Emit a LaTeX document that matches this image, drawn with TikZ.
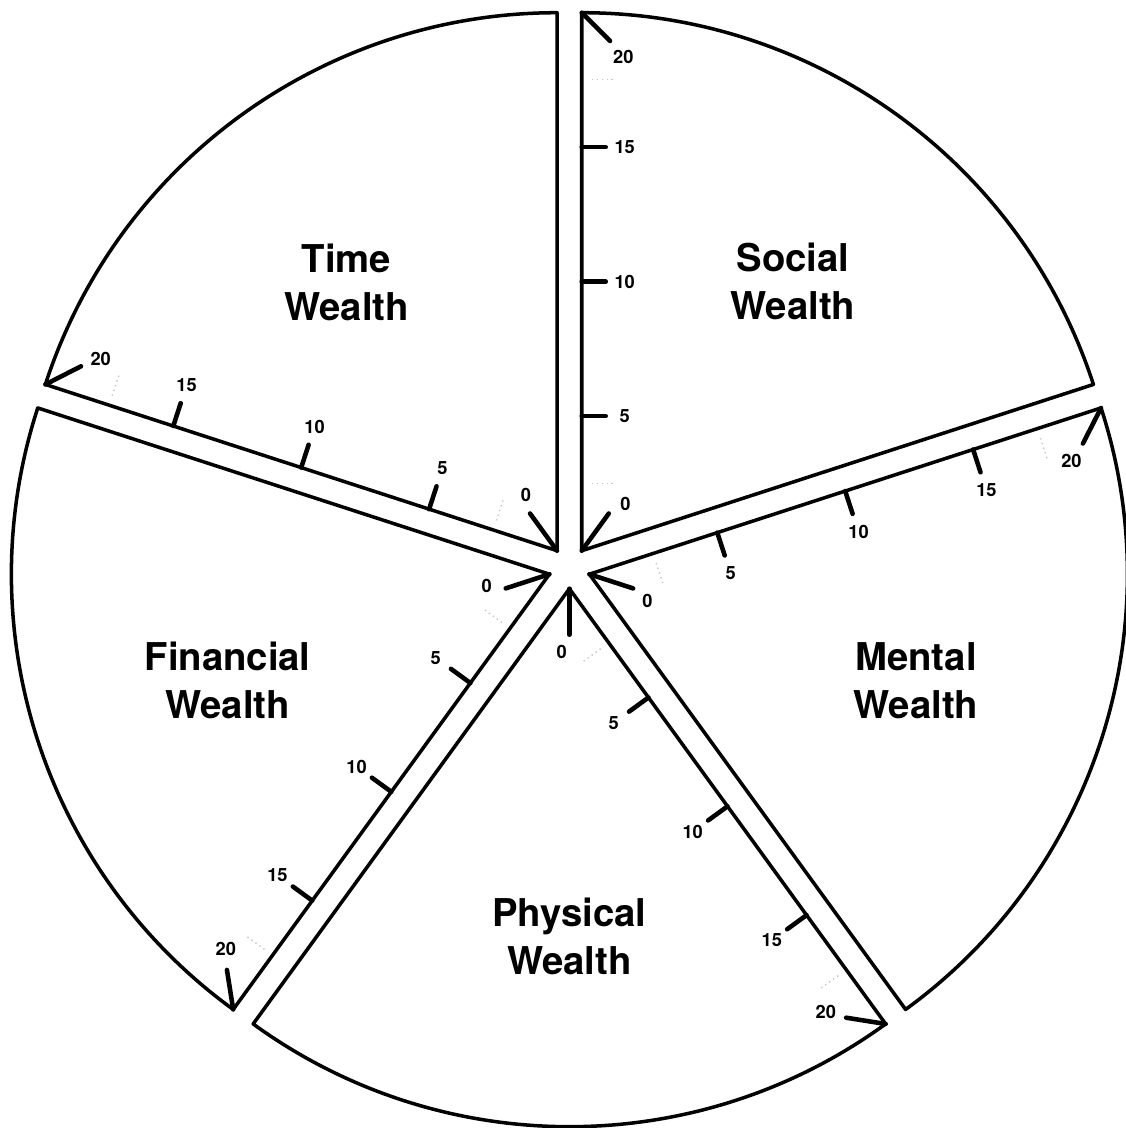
\documentclass[tikz,border=0pt]{standalone}
\usepackage{fontspec}
\setmainfont{TeX Gyre Heros}
\begin{document}
\begin{tikzpicture}[x=0.02cm,y=0.02cm,
  edge/.style={line width=2pt,line join=round},
  tick/.style={line width=2.6pt,line cap=round},
  faint/.style={gray!45,line width=0.8pt,dotted},
  num/.style={font=\fontsize{10.4}{12}\selectfont\bfseries,inner sep=0pt},
  title/.style={font=\fontsize{21.8}{27.3}\selectfont\bfseries,align=center,inner sep=0pt}]
\useasboundingbox (-569.4,-560.3) rectangle (555.6,567.7);
\foreach \a/\w in {90/soc,162/tim,234/fin,306/phy,18/men}{
\begin{scope}[shift={(\a-36:21)}]
\coordinate (\w-v) at (0,0);
\coordinate (\w-c) at (\a:538);
\draw[edge] (\w-v) -- (\w-c) arc[start angle=\a,end angle=\a-72,radius=538] -- cycle;
\draw[tick] (\w-v) -- (\a-36:46);
\node[num] (\w-0) at (\a-43:64) {0};
\foreach \k [evaluate=\k as \r using \k*26.9] in {5,10,15}{
  \draw[tick] (\a:\r) -- ++(\a-90:24);
  \path (\a:\r) ++(\a-90:43) node[num] (\w-\k) {\k};
}
\draw[faint] (\a:67) ++(\a-90:10) -- ++(\a-90:22);
\draw[faint] (\a:471) ++(\a-90:10) -- ++(\a-90:22);
\draw[tick] (\w-c) -- ++(\a-135:40);
\path (\w-c) ++(\a-137:61) node[num] (\w-20) {20};
\end{scope}
}
\node[title] (tim-t) at (128:362) {Time\\Wealth};
\node[title] (soc-t) at (52:363) {Social\\Wealth};
\node[title] (fin-t) at (198.3:360) {Financial\\Wealth};
\node[title] (men-t) at (342:364.5) {Mental\\Wealth};
\node[title] (phy-t) at (270:368.8) {Physical\\Wealth};
\end{tikzpicture}
\end{document}
